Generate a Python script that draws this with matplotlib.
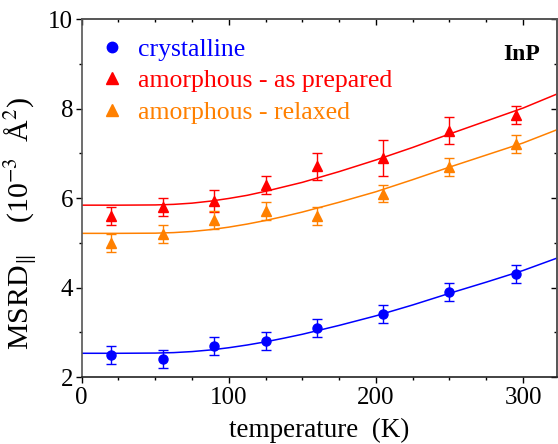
import numpy as np
import matplotlib
matplotlib.use("Agg")
import matplotlib.pyplot as plt
from matplotlib.ticker import MultipleLocator
from matplotlib.lines import Line2D

plt.rcParams['font.family'] = ['Liberation Serif', 'DejaVu Serif']
plt.rcParams['mathtext.fontset'] = 'stix'

# === measured points ===
temps = [20, 55, 90, 125, 160, 205, 250, 295]
cryst = [2.5, 2.4, 2.7, 2.8, 3.1, 3.4, 3.9, 4.3]
cryst_err = [0.2, 0.2, 0.2, 0.2, 0.2, 0.2, 0.2, 0.2]
asprep = [5.6, 5.8, 5.93, 6.3, 6.71, 6.9, 7.5, 7.85]
asprep_err = [0.2, 0.2, 0.25, 0.2, 0.3, 0.4, 0.3, 0.2]
relaxed = [5.0, 5.2, 5.5, 5.7, 5.6, 6.1, 6.7, 7.2]
relaxed_err = [0.2, 0.2, 0.2, 0.2, 0.2, 0.2, 0.2, 0.2]

# === fitted curves ===
fit_t = [0, 25, 50, 62.5, 75, 87.5, 100, 112.5, 125, 137.5, 150, 175, 200, 225, 250, 275, 300, 325]
fit_cryst = [2.53, 2.53, 2.535, 2.545, 2.568, 2.604, 2.654, 2.715, 2.786, 2.868, 2.955,
             3.153, 3.367, 3.61, 3.87, 4.12, 4.38, 4.68]
fit_asprep = [5.84, 5.84, 5.845, 5.858, 5.885, 5.93, 5.99, 6.06, 6.15, 6.25, 6.35,
              6.59, 6.85, 7.13, 7.43, 7.72, 8.01, 8.35]
fit_relaxed = [5.21, 5.21, 5.214, 5.227, 5.252, 5.293, 5.349, 5.418, 5.498, 5.589, 5.686,
               5.905, 6.14, 6.41, 6.69, 6.96, 7.23, 7.55]

labels = ["crystalline", "amorphous - as prepared", "amorphous - relaxed"]
colors = ["#0000ff", "#ff0000", "#ff8000"]

fig = plt.figure(figsize=(5.58, 4.44), dpi=100)
ax = fig.add_axes([0.1464, 0.1509, 0.8516, 0.8063])

series = [(cryst, cryst_err, fit_cryst, 'o', 6.5),
          (asprep, asprep_err, fit_asprep, '^', 7.5),
          (relaxed, relaxed_err, fit_relaxed, '^', 7.5)]

for (vals, errs, fit, mk, ms), c in zip(series, colors):
    ax.plot(fit_t, fit, color=c, lw=1.1, zorder=2)
    ax.errorbar(temps, vals, yerr=errs, fmt=mk, color=c, ms=ms, mec=c,
                elinewidth=1.0, capsize=3.3, capthick=1.0, zorder=3)

ax.set_xlim(0, 323)
ax.set_ylim(2, 10)
ax.xaxis.set_major_locator(MultipleLocator(100))
ax.xaxis.set_minor_locator(MultipleLocator(25))
ax.yaxis.set_major_locator(MultipleLocator(2))
ax.yaxis.set_minor_locator(MultipleLocator(1))
ax.tick_params(which='major', direction='out', length=4.5, width=1.0, labelsize=18, pad=1.5)
ax.tick_params(axis='x', which='major', pad=3)
ax.tick_params(which='minor', direction='out', length=2.5, width=1.0)
for s in ax.spines.values():
    s.set_color('#555555')
    s.set_linewidth(1.2)
ax.spines['bottom'].set_color('#222222')

# mirrored ticks pointing inward on top / right
top = ax.secondary_xaxis('top')
top.xaxis.set_major_locator(MultipleLocator(100))
top.xaxis.set_minor_locator(MultipleLocator(25))
top.tick_params(which='major', direction='in', length=4.5, width=1.0, labeltop=False)
top.tick_params(which='minor', direction='in', length=2.5, width=1.0)
right = ax.secondary_yaxis('right')
right.yaxis.set_major_locator(MultipleLocator(2))
right.yaxis.set_minor_locator(MultipleLocator(1))
right.tick_params(which='major', direction='in', length=4.5, width=1.0, labelright=False)
right.tick_params(which='minor', direction='in', length=2.5, width=1.0)
for sec in (top, right):
    for s in sec.spines.values():
        s.set_color('#555555')
        s.set_linewidth(1.2)

ax.set_xlabel("temperature  (K)", fontsize=19.5, labelpad=6)
ax.set_ylabel(r"MSRD$_{\|}$    (10$^{-3}$  Å$^{2}$)", fontsize=21.5)
ax.yaxis.set_label_coords(-0.09, 0.43)

handles = [Line2D([], [], ls='none', marker='o', color=colors[0], ms=7.5),
           Line2D([], [], ls='none', marker='^', color=colors[1], ms=8.5),
           Line2D([], [], ls='none', marker='^', color=colors[2], ms=8.5)]
leg = ax.legend(handles, labels, loc='upper left', bbox_to_anchor=(0.01, 0.975),
                frameon=False, fontsize=18.5, handlelength=1.2, handletextpad=0.4,
                labelspacing=0.32, borderaxespad=0)
for t, c in zip(leg.get_texts(), colors):
    t.set_color(c)

ax.text(0.925, 0.9, "InP", transform=ax.transAxes, fontsize=17,
        fontweight='bold', ha='center', va='center')

fig.savefig("out.png", dpi=100)
